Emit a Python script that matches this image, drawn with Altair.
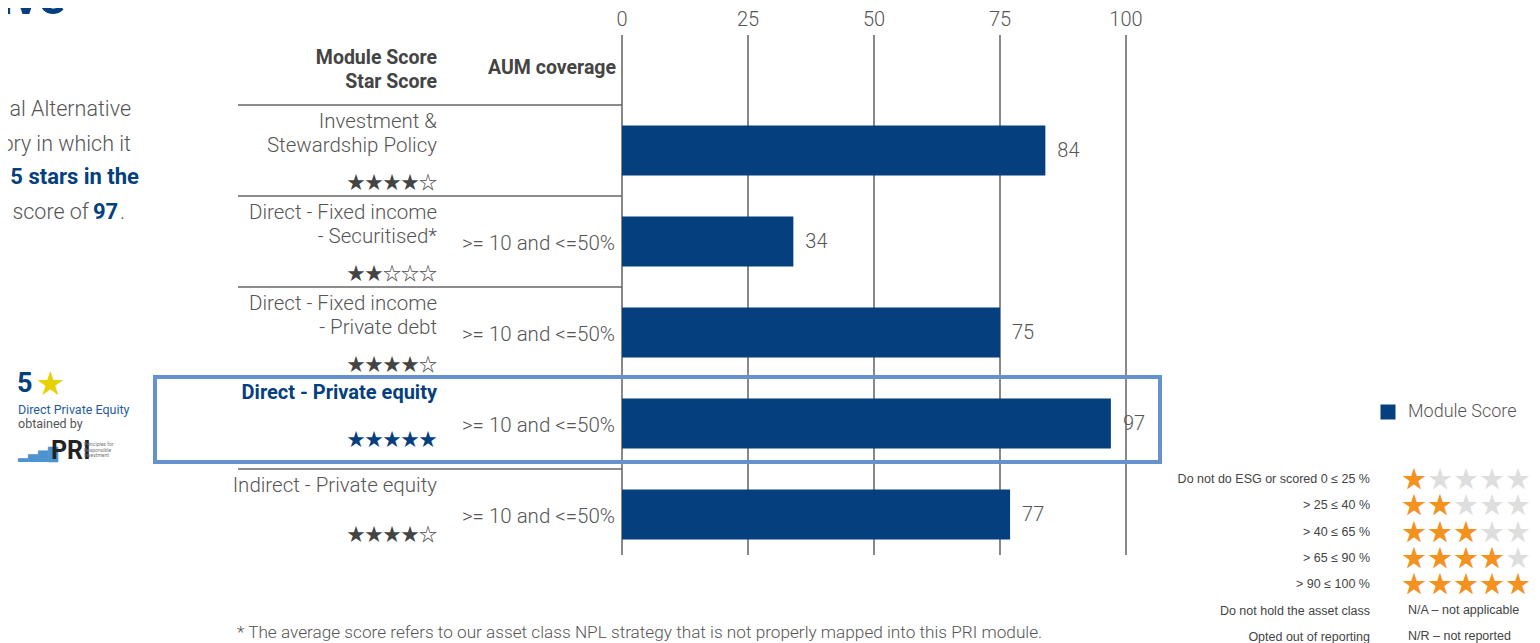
import altair as alt
import pandas as pd

# ---------------- data ----------------
categories = [
    "Investment & Stewardship Policy",
    "Direct - Fixed income - Securitised*",
    "Direct - Fixed income - Private debt",
    "Direct - Private equity",
    "Indirect - Private equity",
]
label_line1 = ["Investment &", "Direct - Fixed income", "Direct - Fixed income",
               "Direct - Private equity", "Indirect - Private equity"]
label_line2 = ["Stewardship Policy", "- Securitised*", "- Private debt", "", ""]
module_scores = [84, 34, 75, 97, 77]
star_scores = [4, 2, 4, 5, 4]
aum_coverage = ["", ">= 10 and <=50%", ">= 10 and <=50%", ">= 10 and <=50%", ">= 10 and <=50%"]
highlight = [False, False, False, True, False]
series_name = "Module Score"
ticks = [0, 25, 50, 75, 100]

legend_labels = ["Do not do ESG or scored 0 \u2264 25 %", "> 25 \u2264 40 %", "> 40 \u2264 65 %",
                 "> 65 \u2264 90 %", "> 90 \u2264 100 %", "Do not hold the asset class",
                 "Opted out of reporting"]
legend_stars = [1, 2, 3, 4, 5]
legend_notes = ["N/A \u2013 not applicable", "N/R \u2013 not reported"]

paragraph_lines = ["al Alternative", "ory in which it"]
paragraph_bold = "5 stars in the"
paragraph_last = ["score of", "97", "."]
footnote = "*  The average score refers to our asset class NPL strategy that is not properly mapped into this PRI module."

# ---------------- styling ----------------
NAVY = "#053f7d"
GREY = "#555555"
DARK = "#444444"
FONT = "Roboto"
LIGHT = 300
STARFONT = "DejaVu Sans"
CJK = "Noto Sans CJK JP"

X0, Y0 = 622, 105  # page position of the plot origin


def px(x):
    return x - X0


def py(y):
    return y - Y0


df = pd.DataFrame({
    "category": categories,
    "line1": label_line1,
    "line2": label_line2,
    "score": module_scores,
    "stars": ["\u2605" * n + "\u2606" * (5 - n) for n in star_scores],
    "aum": aum_coverage,
    "hl": highlight,
    "series": series_name,
})
tick_df = pd.DataFrame({"t": ticks})

xscale = alt.Scale(domain=[0, 100], nice=False, zero=True)
yscale = alt.Scale(domain=categories, paddingInner=0.45, paddingOuter=0.225)
Y = alt.Y("category:N", sort=categories, scale=yscale, axis=None)

base = alt.Chart(df)

grid = alt.Chart(tick_df).mark_rule(color="#3a3a3a", strokeWidth=1.2).encode(
    x=alt.X("t:Q", scale=xscale, axis=None), y=alt.value(py(35)), y2=alt.value(py(555)))
tick_labels = alt.Chart(tick_df).mark_text(fontSize=20, color=GREY, font=FONT, fontWeight=LIGHT,
                                           baseline="middle").encode(
    x=alt.X("t:Q", scale=xscale, axis=None), y=alt.value(py(20)), text="t:Q")

bars = base.mark_bar().encode(
    x=alt.X("score:Q", scale=xscale, axis=None),
    y=Y,
    color=alt.Color("series:N", scale=alt.Scale(domain=[series_name], range=[NAVY]),
                    legend=alt.Legend(orient="none", legendX=px(1379), legendY=py(403), title=None,
                                      symbolType="square", symbolSize=225, symbolStrokeWidth=0,
                                      labelFontSize=18, labelColor=GREY, labelFont=FONT,
                                      labelFontWeight=LIGHT, labelOffset=11, padding=0)),
)
values = base.mark_text(align="left", baseline="middle", dx=12, fontSize=20, color=GREY, font=FONT,
                        fontWeight=LIGHT).encode(
    x=alt.X("score:Q", scale=xscale, axis=None), y=Y, text="score:Q")

separators = base.mark_rule(yOffset=-45.5, color="#666666", strokeWidth=1.5).encode(
    y=Y, x=alt.value(px(238)), x2=alt.value(px(622)))

LX = px(437)
normal = base.transform_filter("!datum.hl")
hl = base.transform_filter("datum.hl")
three = "datum.line2 != ''"
two = "datum.line2 == ''"

line1_n = normal.mark_text(align="right", baseline="middle", dy=-29, fontSize=20.5, color=GREY, font=FONT,
                           fontWeight=LIGHT).encode(x=alt.value(LX), y=Y, text="line1:N")
line2_n = normal.mark_text(align="right", baseline="middle", dy=-5, fontSize=20.5, color=GREY, font=FONT,
                           fontWeight=LIGHT).encode(x=alt.value(LX), y=Y, text="line2:N")
stars3 = normal.transform_filter(three).mark_text(align="right", baseline="middle", dy=33, fontSize=18,
                                                  color=DARK, font=CJK).encode(
    x=alt.value(LX), y=Y, text="stars:N")
stars2 = normal.transform_filter(two).mark_text(align="right", baseline="middle", dy=21, fontSize=18,
                                                color=DARK, font=CJK).encode(
    x=alt.value(LX), y=Y, text="stars:N")
line1_h = hl.mark_text(align="right", baseline="middle", dy=-31, fontSize=20, fontWeight="bold",
                       color=NAVY, font=FONT).encode(x=alt.value(LX), y=Y, text="line1:N")
stars_h = hl.mark_text(align="right", baseline="middle", dy=17, fontSize=18, color=NAVY,
                       font=CJK).encode(x=alt.value(LX), y=Y, text="stars:N")
aum = base.mark_text(align="right", baseline="middle", dy=2, fontSize=20.5, color=GREY, font=FONT,
                     fontWeight=LIGHT).encode(x=alt.value(px(615)), y=Y, text="aum:N")

box = hl.mark_bar(size=85, yOffset=-4, fill="transparent", stroke="#6592cc", strokeWidth=4).encode(
    y=Y, x=alt.value(px(155)), x2=alt.value(px(1160)))


def note(text, x, y, **kw):
    opts = dict(font=FONT, fontSize=20, color=GREY, align="left", baseline="alphabetic")
    opts.update(kw)
    return alt.Chart(pd.DataFrame({"t": [text]})).mark_text(**opts).encode(
        text="t:N", x=alt.value(px(x)), y=alt.value(py(y)))


headers = [
    note("Module Score", 437, 58, align="right", baseline="middle", fontWeight="bold", fontSize=19.5, color=DARK),
    note("Star Score", 437, 82, align="right", baseline="middle", fontWeight="bold", fontSize=19.5, color=DARK),
    note("AUM coverage", 616, 68, align="right", baseline="middle", fontWeight="bold", fontSize=19.5, color=DARK),
]

paragraph = [
    note("\n".join(paragraph_lines), 131, 116, align="right", fontSize=21.5, fontWeight=LIGHT,
         lineBreak="\n", lineHeight=34.5),
    note(paragraph_bold, 139, 184, align="right", fontWeight="bold", fontSize=22, color=NAVY),
    note(paragraph_last[0], 89, 219, align="right", fontSize=21.5, fontWeight=LIGHT),
    note(paragraph_last[1], 93, 219, fontWeight="bold", fontSize=22, color=NAVY),
    note(paragraph_last[2], 120, 219, fontSize=21.5, fontWeight=LIGHT),
    note("ive", 0, 14, fontSize=50, fontWeight="bold", color=NAVY),
]

badge = [
    note("5", 17, 392, fontSize=27, fontWeight="bold", color=NAVY),
    note("\u2605", 37, 393, fontSize=27, font=CJK, color="#e6d200"),
    note("Direct Private Equity", 18, 414, fontSize=12.5, color="#1f5c9e"),
    note("obtained by", 18, 428, fontSize=12.5, color=GREY),
    note("\u2582\u2584\u2586\u2588", 18, 459, fontSize=13, font=STARFONT, color="#4b93d1"),
    note("PRI", 51, 459, fontSize=25, fontWeight="bold", color="#222222"),
    note("Principles for\nResponsible\nInvestment", 84, 446, fontSize=5, color="#777777",
         lineBreak="\n", lineHeight=5.5),
]

legend_table = [
    note("\n".join(legend_labels), 1370, 483, align="right", font="Liberation Sans", fontSize=12.5,
         color=DARK, lineBreak="\n", lineHeight=26.3),
    note("\n".join(["\u2605" * 5] * len(legend_stars)), 1401, 489, font=STARFONT, fontSize=29,
         color="#dedede", lineBreak="\n", lineHeight=26.3),
    note("\n".join(["\u2605" * n for n in legend_stars]), 1401, 489, font=STARFONT, fontSize=29,
         color="#f5921e", lineBreak="\n", lineHeight=26.3),
    note(legend_notes[0], 1408, 614, font="Liberation Sans", fontSize=12.5, color=DARK),
    note(legend_notes[1], 1408, 640, font="Liberation Sans", fontSize=12.5, color=DARK),
]

foot = [note(footnote, 237, 638, fontSize=17.2, fontWeight=LIGHT)]

chart = alt.layer(
    grid, tick_labels, separators, bars, values,
    line1_n, line2_n, stars3, stars2, line1_h, stars_h, aum, box,
    *headers, *paragraph, *badge, *legend_table, *foot,
).properties(
    width=504, height=455,
    autosize=alt.AutoSizeParams(type="none"),
    padding={"left": 614, "top": 97, "right": 406, "bottom": 83},
).configure_view(strokeWidth=0)

chart.save("out.html", embed_options={"renderer": "svg", "actions": False})
